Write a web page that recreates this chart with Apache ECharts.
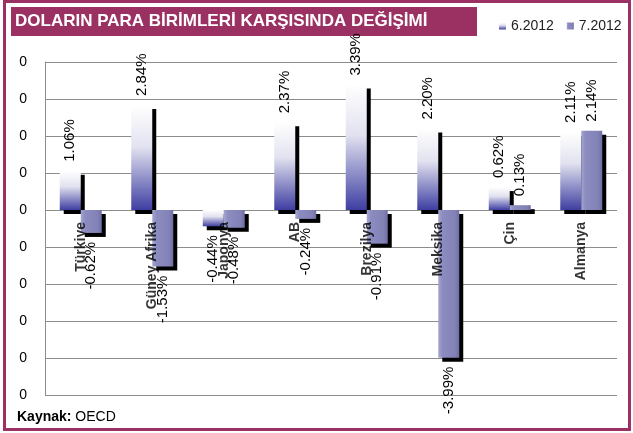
<!DOCTYPE html>
<html>
<head>
<meta charset="utf-8">
<script src="https://cdn.jsdelivr.net/npm/echarts@6/dist/echarts.min.js"></script>
<style>
  html, body { margin: 0; padding: 0; background: #fff; }
  #chart { width: 633px; height: 433px; }
</style>
</head>
<body>
<div id="chart"></div>
<script>
  // ulkeler ve aylik degisim (%)
  var ulkeler = ['Türkiye', 'Güney Afrika', 'Japonya', 'AB', 'Brezilya', 'Meksika', 'Çin', 'Almanya'];
  var haziran = [1.06, 2.84, -0.44, 2.37, 3.39, 2.20, 0.62, 2.11];
  var temmuz = [-0.62, -1.53, -0.48, -0.24, -0.91, -3.99, 0.13, 2.14];
  var donemler = ['6.2012', '7.2012'];

  var fontAd = 'Liberation Sans, Arial, sans-serif';

  function etiketli(arr) {
    return arr.map(function (v) {
      var neg = v < 0;
      return {
        value: v,
        label: {
          position: neg ? 'bottom' : 'top',
          align: neg ? 'right' : 'left'
        }
      };
    });
  }

  var ortakEtiket = {
    show: true,
    rotate: 90,
    distance: 9,
    verticalAlign: 'middle',
    fontSize: 15,
    fontFamily: fontAd,
    color: '#000',
    formatter: function (p) { return p.value.toFixed(2) + '%'; }
  };

  var golge = {
    shadowColor: '#000',
    shadowBlur: 0,
    shadowOffsetX: 4,
    shadowOffsetY: 4
  };

  var myChart = echarts.init(document.getElementById('chart'));
  myChart.setOption({
    animation: false,
    backgroundColor: '#fff',
    textStyle: { fontFamily: fontAd },
    grid: { left: 45, right: 16, top: 62, bottom: 38, containLabel: false, outerBoundsMode: 'none' },
    legend: {
      data: donemler,
      left: 494,
      top: 14,
      icon: 'rect',
      itemWidth: 7,
      itemHeight: 7,
      itemGap: 13,
      textStyle: { fontSize: 14, color: '#222', fontFamily: fontAd }
    },
    xAxis: {
      type: 'category',
      data: ulkeler,
      axisLine: { show: false },
      axisTick: { show: false },
      axisLabel: { show: false }
    },
    yAxis: {
      type: 'value',
      min: -5,
      max: 4,
      interval: 1,
      axisLine: { show: true, lineStyle: { color: '#8c8c8c' } },
      axisTick: { show: false },
      axisLabel: {
        margin: 18,
        fontSize: 14,
        color: '#000',
        fontFamily: fontAd,
        formatter: function () { return '0'; }
      },
      splitLine: { lineStyle: { color: '#8c8c8c', width: 1 } }
    },
    series: [{
      name: donemler[0],
      type: 'bar',
      barWidth: 21,
      barGap: '0%',
      data: etiketli(haziran),
      label: ortakEtiket,
      itemStyle: Object.assign({
        color: new echarts.graphic.LinearGradient(0, 0, 0, 1, [
          { offset: 0, color: '#ffffff' },
          { offset: 0.4, color: '#e2e2f0' },
          { offset: 1, color: '#3e3ea2' }
        ])
      }, golge)
    }, {
      name: donemler[1],
      type: 'bar',
      barWidth: 21,
      data: etiketli(temmuz),
      label: ortakEtiket,
      itemStyle: Object.assign({
        color: new echarts.graphic.LinearGradient(0, 0, 1, 0, [
          { offset: 0, color: '#a6a6d0' },
          { offset: 0.2, color: '#8c8cc0' },
          { offset: 0.8, color: '#8282b6' },
          { offset: 1, color: '#6e6ea6' }
        ])
      }, golge)
    }, {
      // kategori adlari sifir cizgisinin altinda
      name: 'ulke',
      type: 'scatter',
      symbolSize: 0,
      silent: true,
      z: 5,
      data: ulkeler.map(function (u) { return [u, 0]; }),
      label: {
        show: true,
        position: 'bottom',
        rotate: 90,
        align: 'right',
        verticalAlign: 'middle',
        distance: 12,
        fontSize: 14,
        fontWeight: 'bold',
        color: '#000',
        fontFamily: fontAd,
        formatter: function (p) { return p.name || p.value[0]; }
      }
    }],
    graphic: [{
      type: 'rect',
      shape: { x: 4.5, y: 1.5, width: 625, height: 428 },
      style: { fill: 'none', stroke: '#9b3163', lineWidth: 3 },
      silent: true
    }, {
      type: 'rect',
      shape: { x: 11, y: 7, width: 466, height: 29 },
      style: { fill: '#9b3163' },
      silent: true
    }, {
      type: 'text',
      left: 15,
      top: 13,
      style: {
        text: 'DOLARIN PARA BİRİMLERİ KARŞISINDA DEĞİŞİMİ',
        fill: '#fff',
        font: 'bold 17px ' + fontAd
      },
      silent: true
    }, {
      type: 'text',
      left: 17,
      top: 410,
      style: {
        text: '{b|Kaynak:} OECD',
        fill: '#000',
        font: '14px ' + fontAd,
        rich: { b: { fontWeight: 'bold', fontSize: 14, fontFamily: fontAd } }
      },
      silent: true
    }]
  });
</script>
</body>
</html>
